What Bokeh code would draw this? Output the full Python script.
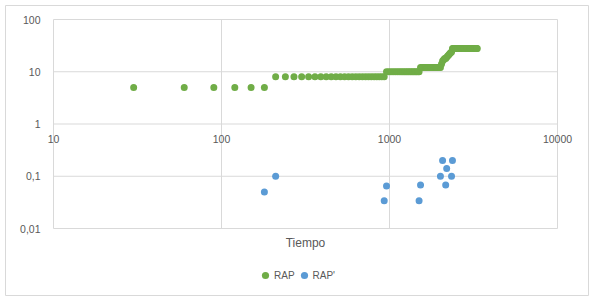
import math
from bokeh.plotting import figure
from bokeh.models import Legend, LegendItem
from bokeh.core.properties import value
from bokeh.embed import file_html
from bokeh.resources import INLINE

x_ticks = [10, 100, 1000, 10000]
x_tick_labels = ["10", "100", "1000", "10000"]
x_axis_cross = 1
x_title = "Tiempo"
y_ticks = [0.01, 0.1, 1, 10, 100]
y_tick_labels = ["0,01", "0,1", "1", "10", "100"]

rap_t = [30, 60, 90, 120, 150, 180,
         210, 240, 270, 300, 330, 360, 390, 420, 450, 480, 510, 540, 570, 600,
         630, 660, 690, 720, 750, 780, 810, 840, 870, 900, 930,
         960, 990, 1020, 1050, 1080, 1110, 1140, 1170, 1200, 1230, 1260, 1290,
         1320, 1350, 1380, 1410, 1440, 1470, 1500,
         1530, 1560, 1590, 1620, 1650, 1680, 1710, 1740, 1770, 1800, 1830, 1860,
         1890, 1920, 1950, 1980, 2010,
         2040, 2070, 2100, 2130, 2160, 2190, 2220, 2250, 2280, 2310, 2340,
         2370, 2400, 2430, 2460, 2490, 2520, 2550, 2580, 2610, 2640, 2670, 2700,
         2730, 2760, 2790, 2820, 2850, 2880, 2910, 2940, 2970, 3000, 3030, 3060,
         3090, 3120, 3150, 3180, 3210, 3240, 3270, 3300, 3330]
rap_v = [5, 5, 5, 5, 5, 5,
         8, 8, 8, 8, 8, 8, 8, 8, 8, 8, 8, 8, 8, 8,
         8, 8, 8, 8, 8, 8, 8, 8, 8, 8, 8,
         10, 10, 10, 10, 10, 10, 10, 10, 10, 10, 10, 10,
         10, 10, 10, 10, 10, 10, 10,
         12, 12, 12, 12, 12, 12, 12, 12, 12, 12, 12, 12,
         12, 12, 12, 12, 12,
         14, 16, 17, 18, 18, 19, 20, 21, 22, 23, 24,
         28, 28, 28, 28, 28, 28, 28, 28, 28, 28, 28, 28,
         28, 28, 28, 28, 28, 28, 28, 28, 28, 28, 28, 28,
         28, 28, 28, 28, 28, 28, 28, 28, 28]

rapp_t = [180, 210, 930, 960, 1500, 1530, 2010, 2070, 2160, 2190, 2340, 2370]
rapp_v = [0.05, 0.1, 0.034, 0.065, 0.034, 0.068, 0.1, 0.2, 0.068, 0.14, 0.1, 0.2]

GREEN = "#70AD47"
BLUE = "#5B9BD5"
GRID = "#D9D9D9"
TXT = "#595959"
FONT = "Liberation Sans"

# layout (pixels): chart box and the inner plot area within it
W, H = 593, 299
BOX_L, BOX_R, BOX_T, BOX_B = 5, 588, 5, 295
AREA_L, AREA_R, AREA_T, AREA_B = 53, 557, 19, 228

lx0, lx1 = math.log10(x_ticks[0]), math.log10(x_ticks[-1])
ly0, ly1 = math.log10(y_ticks[0]), math.log10(y_ticks[-1])
ppx = (AREA_R - AREA_L) / (lx1 - lx0)
ppy = (AREA_B - AREA_T) / (ly1 - ly0)
x_range = (10 ** (lx0 - (AREA_L - BOX_L) / ppx), 10 ** (lx1 + (BOX_R - AREA_R) / ppx))
y_range = (10 ** (ly0 - (BOX_B - AREA_B) / ppy), 10 ** (ly1 + (AREA_T - BOX_T) / ppy))

p = figure(width=W, height=H, x_axis_type="log", y_axis_type="log",
           x_range=x_range, y_range=y_range,
           x_axis_location=None, y_axis_location=None,
           output_backend="svg", toolbar_location=None,
           min_border_left=BOX_L, min_border_right=W - BOX_R,
           min_border_top=BOX_T, min_border_bottom=H - BOX_B,
           outline_line_color=GRID, outline_line_width=1,
           background_fill_color="white", border_fill_color="white")
p.grid.visible = False

# gridlines limited to the plot area
p.segment(x0=x_ticks[0], x1=x_ticks[-1], y0=y_ticks, y1=y_ticks,
          line_color=GRID, line_width=1)
p.segment(x0=x_ticks, x1=x_ticks, y0=y_ticks[0], y1=y_ticks[-1],
          line_color=GRID, line_width=1)

# y tick labels (left of plot area)
p.text(x=[x_ticks[0]] * len(y_ticks), y=y_ticks, text=y_tick_labels,
       text_align="right", text_baseline="middle", x_offset=-13,
       text_font=value(FONT), text_font_size="10.5px", text_color=TXT)

# x tick labels below the horizontal axis that crosses at y = 1
p.text(x=x_ticks, y=[x_axis_cross] * len(x_ticks), text=x_tick_labels,
       text_align="center", text_baseline="top", y_offset=11,
       text_font=value(FONT), text_font_size="10.5px", text_color=TXT)

# x axis title under the plot area
p.text(x=[math.sqrt(x_ticks[0] * x_ticks[-1])], y=[y_ticks[0]], text=[x_title],
       text_align="center", text_baseline="top", y_offset=7,
       text_font=value(FONT), text_font_size="12px", text_color=TXT)

r1 = p.scatter(rap_t, rap_v, size=7, color=GREEN, line_color=None)
r2 = p.scatter(rapp_t, rapp_v, size=7, color=BLUE, line_color=None)

legend = Legend(items=[LegendItem(label="RAP", renderers=[r1]),
                       LegendItem(label="RAP'", renderers=[r2])],
                orientation="horizontal", location=(251, 11),
                glyph_width=18, glyph_height=18, label_standoff=0, spacing=0,
                padding=0, margin=0, border_line_color=None, background_fill_alpha=0,
                label_text_font=FONT, label_text_font_size="10px",
                label_text_color=TXT)
p.add_layout(legend)

open("out.html", "w").write(file_html(p, INLINE))
